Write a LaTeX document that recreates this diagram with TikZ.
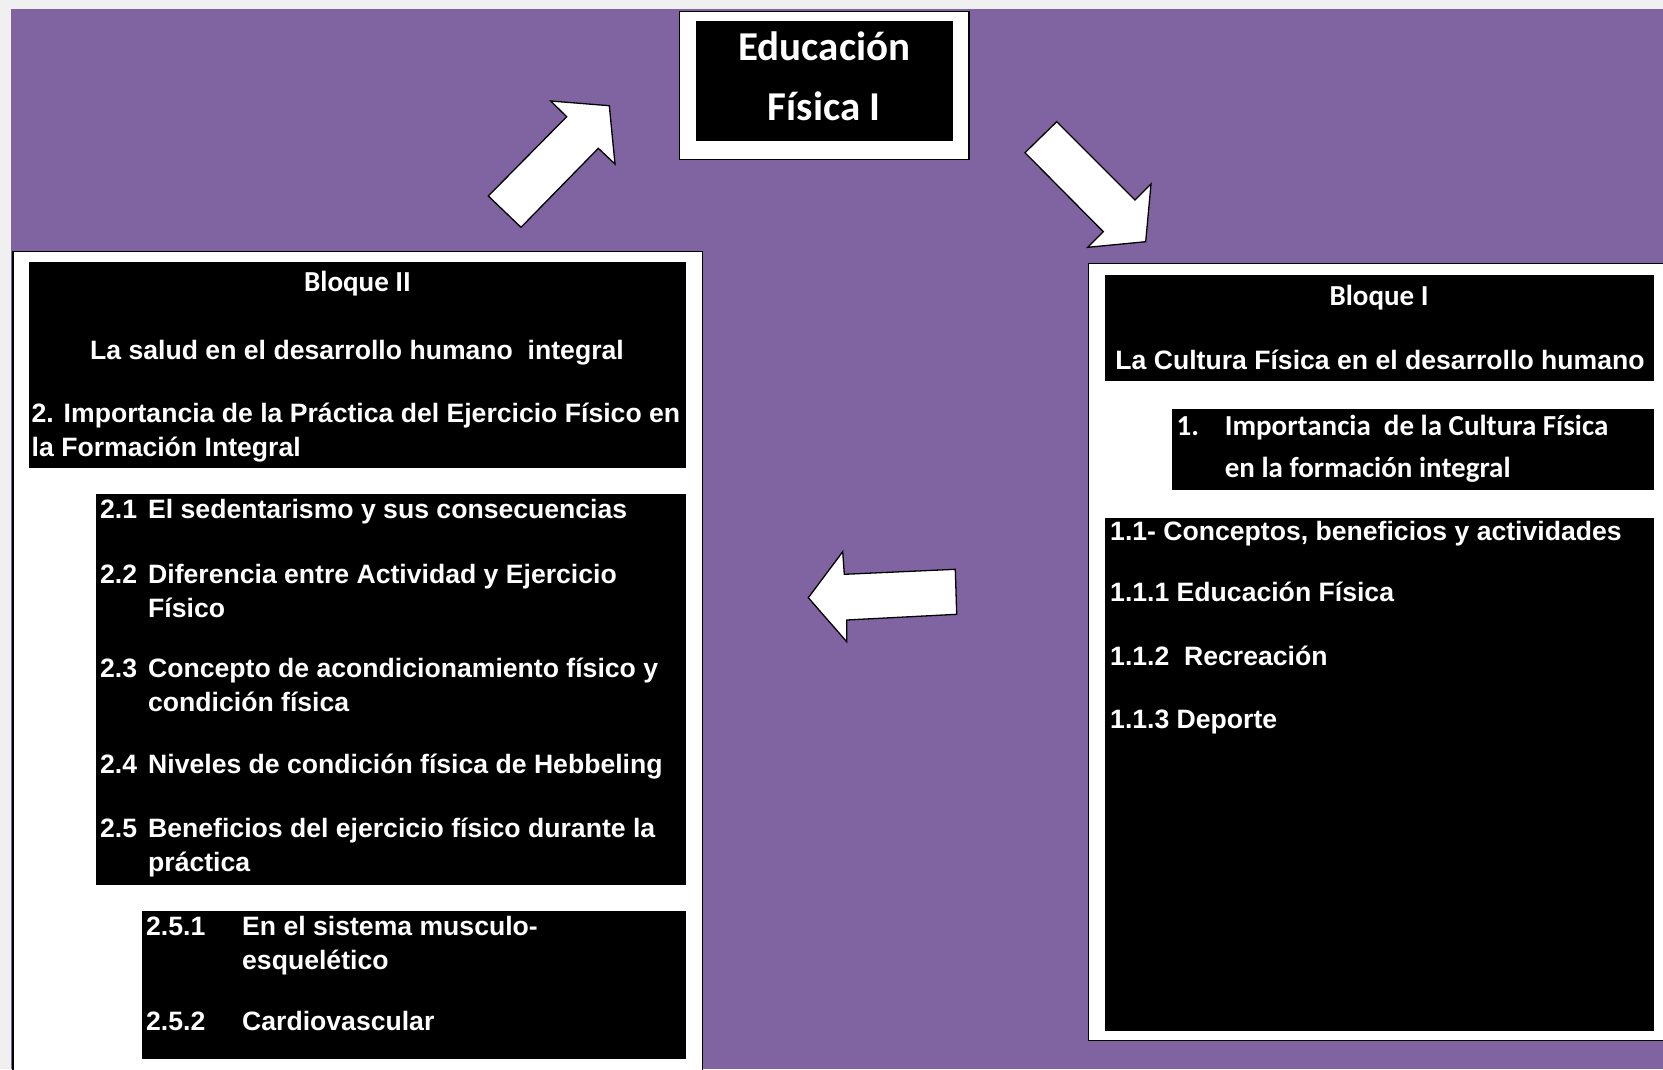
\documentclass[tikz,border=0pt]{standalone}
\usepackage{fontspec}
\usepackage{xcolor}
\usepackage{tikz}
\usetikzlibrary{positioning}
\newfontfamily\arialfam{Liberation Sans}
\newfontfamily\calfam{Carlito}
\definecolor{bgpurple}{RGB}{128,100,162}
\definecolor{pagegrey}{RGB}{240,240,240}
\newcommand{\itemfont}{\arialfam\bfseries\fontsize{26.6}{34}\selectfont}
\newcommand{\blqfont}{\calfam\bfseries\fontsize{29}{42}\selectfont}
\newcommand{\titlefont}{\calfam\bfseries\fontsize{41}{60}\selectfont}
\tikzset{
  framebox/.style={draw=black,line width=1.3pt,fill=white,inner sep=0pt,anchor=north west},
  darkbox/.style={fill=black,inner sep=0pt,anchor=north west},
  itemtxt/.style={text=white,font=\itemfont,inner sep=0pt,anchor=base west,align=left},
  blqtxt/.style={text=white,font=\blqfont,inner sep=0pt,anchor=base,align=left},
  bigarrow/.style={draw=black,fill=white,line width=1.3pt,line join=miter},
}

\begin{document}
\begin{tikzpicture}[x=1pt,y=-1pt]
  \useasboundingbox (0,0) rectangle (1663,1069);
  \clip (0,0) rectangle (1663,1069);
  \fill[pagegrey] (0,0) rectangle (1663,1069);
  \fill[bgpurple] (10.7,9) rectangle (1663,1069);
  % title (multi-line nodes sit on their last baseline)
  \node[framebox,minimum width=289.3pt,minimum height=148.3pt] (tframe) at (679,10.7) {};
  \node[darkbox,minimum width=256.7pt,minimum height=119.7pt] (tbox) at (696,21) {};
  \node[text=white,font=\titlefont,inner sep=0pt,anchor=base,align=center] (ttl) at (824.3,120.7) {Educación\\Física I};
  % bloque II
  \node[framebox,minimum width=689.2pt,minimum height=829.3pt] (lframe) at (12.4,250.7) {};
  \node[darkbox,minimum width=657.1pt,minimum height=206pt] (lhdr) at (28.9,262) {};
  \node[darkbox,minimum width=590.5pt,minimum height=390.3pt] (litems) at (95.5,494) {};
  \node[darkbox,minimum width=544.6pt,minimum height=148.3pt] (lsub) at (141.4,910.7) {};
  \node[blqtxt] (blq2) at (357.5,291.7) {Bloque II};
  \node[itemtxt,anchor=base] (salud) at (357,359.3) {La salud en el desarrollo humano~ integral};
  \node[itemtxt] (imp2) at (31.5,456.7) {2. Importancia de la Práctica del Ejercicio Físico en\\la Formación Integral};
  \node[itemtxt] (n21) at (100,518) {2.1};
  \node[itemtxt] (t21) at (148,518) {El sedentarismo y sus consecuencias};
  \node[itemtxt] (n22) at (100,583) {2.2};
  \node[itemtxt] (t22) at (148,617) {Diferencia entre Actividad y Ejercicio\\Físico};
  \node[itemtxt] (n23) at (100,677) {2.3};
  \node[itemtxt] (t23) at (148,711) {Concepto de acondicionamiento físico y\\condición física};
  \node[itemtxt] (n24) at (100,773) {2.4};
  \node[itemtxt] (t24) at (148,773) {Niveles de condición física de Hebbeling};
  \node[itemtxt] (n25) at (100,837) {2.5};
  \node[itemtxt] (t25) at (148,871) {Beneficios del ejercicio físico durante la\\práctica};
  \node[itemtxt] (n251) at (146,935) {2.5.1};
  \node[itemtxt] (t251) at (242,969) {En el sistema musculo-\\esquelético};
  \node[itemtxt] (n252) at (146,1030) {2.5.2};
  \node[itemtxt] (t252) at (242,1030) {Cardiovascular};
  % bloque I
  \node[framebox,minimum width=587.3pt,minimum height=777.3pt] (rframe) at (1087.7,262.7) {};
  \node[darkbox,minimum width=549.2pt,minimum height=105.7pt] (rhdr) at (1105,275) {};
  \node[darkbox,minimum width=482.7pt,minimum height=81pt] (rimp) at (1171.5,408.3) {};
  \node[darkbox,minimum width=549.2pt,minimum height=513.4pt] (rlist) at (1105,517.3) {};
  \node[blqtxt] (blq1) at (1379,305) {Bloque I};
  \node[itemtxt,anchor=base] (cultura) at (1380,369.3) {La Cultura Física en el desarrollo humano};
  \node[blqtxt,anchor=base west] (n1) at (1176.5,435) {1.};
  \node[blqtxt,anchor=base west] (t1) at (1224.6,477.3) {Importancia~ de la Cultura Física\\en la formación integral};
  \node[itemtxt] (t11) at (1110,540) {1.1- Conceptos, beneficios y actividades};
  \node[itemtxt] (t111) at (1110,601.7) {1.1.1 Educación Física};
  \node[itemtxt] (t112) at (1110,665) {1.1.2~ Recreación};
  \node[itemtxt] (t113) at (1110,728.3) {1.1.3 Deporte};
  % block arrows
  \draw[bigarrow] (488.3,196) -- (566.7,116.7) -- (550.7,101) -- (609.3,105.7) -- (615,164) -- (598.3,148.3) -- (521,227.3) -- cycle;
  \draw[bigarrow] (1056.7,121.7) -- (1135,200) -- (1151,184) -- (1145.7,241.7) -- (1087.7,247.3) -- (1103.3,231.7) -- (1025,152.7) -- cycle;
  \draw[bigarrow] (808.3,597.7) -- (842.7,551.7) -- (844.3,574.3) -- (955.3,569.3) -- (956.7,614.3) -- (846.7,620) -- (846.7,641.7) -- cycle;
\end{tikzpicture}
\end{document}
